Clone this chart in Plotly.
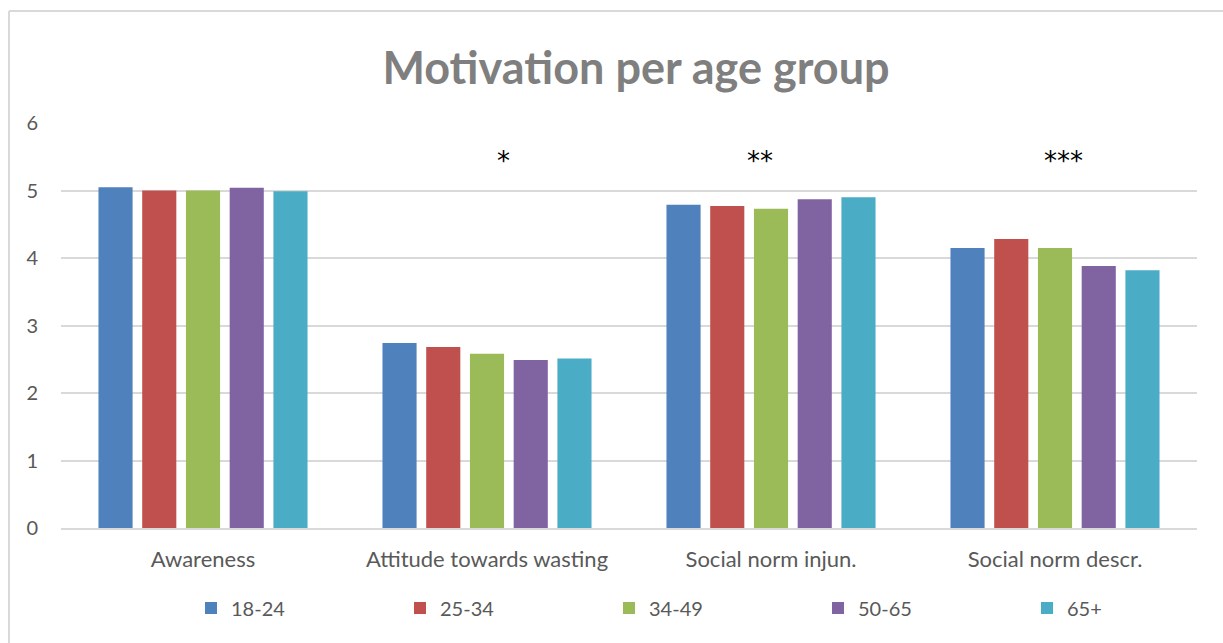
import plotly.graph_objects as go

categories = ["Awareness", "Attitude towards wasting", "Social norm injun.", "Social norm descr."]
age_groups = ["18-24", "25-34", "34-49", "50-65", "65+"]

vals_18_24 = [5.05, 2.74, 4.79, 4.15]
vals_25_34 = [5.00, 2.68, 4.77, 4.28]
vals_34_49 = [5.00, 2.58, 4.73, 4.15]
vals_50_65 = [5.04, 2.49, 4.87, 3.88]
vals_65_plus = [4.99, 2.51, 4.90, 3.82]

series = [vals_18_24, vals_25_34, vals_34_49, vals_50_65, vals_65_plus]
colors = ["#4f81bd", "#c0504d", "#9bbb59", "#8064a2", "#4bacc6"]

# significance markers above the categories
sig_labels = ["", "*", "**", "***"]
sig_shift = [0, 16, -11, 8]

FONT = "Lato"
GRID = "#d9d9d9"
TXT = "#595959"

fig = go.Figure()
for name, vals, col in zip(age_groups, series, colors):
    fig.add_trace(go.Bar(
        x=categories, y=vals, name=name,
        marker=dict(color=col, line=dict(width=0)),
    ))

W, H = 1223, 643
ML, MR, MT, MB = 61, 26, 123, 115
PW, PH = W - ML - MR, H - MT - MB


def px(xp):
    return (xp - ML) / PW


def py(yp):
    return (H - MB - yp) / PH


annotations = []
for cat, lab, sh in zip(categories, sig_labels, sig_shift):
    if lab:
        annotations.append(dict(
            x=cat, y=5.5, xref="x", yref="y", text=lab, showarrow=False,
            xshift=sh, yshift=-4,
            font=dict(family="DejaVu Sans", size=26, color="#000000"),
        ))

fig.update_layout(
    width=W, height=H,
    margin=dict(l=ML, r=MR, t=MT, b=MB, pad=0, autoexpand=False),
    paper_bgcolor="white", plot_bgcolor="white",
    barmode="group", bargap=0.23, bargroupgap=0.22,
    title=dict(
        text="<b>Motivation per age group</b>",
        x=px(636), xref="paper", xanchor="center",
        y=1 - 68 / H, yref="container", yanchor="middle",
        font=dict(family=FONT, size=45, color="#7f7f7f"),
    ),
    font=dict(family=FONT, color=TXT),
    xaxis=dict(
        showgrid=False, showline=True, linecolor=GRID, linewidth=2,
        ticks="", tickfont=dict(family=FONT, size=22, color=TXT),
        ticklabelstandoff=11,
    ),
    yaxis=dict(
        range=[0, 6], dtick=1, showgrid=True, gridcolor=GRID, gridwidth=2,
        zeroline=False, showline=False, ticks="",
        tickfont=dict(family=FONT, size=20, color=TXT),
        ticklabelstandoff=22,
    ),
    legend=dict(
        orientation="h", x=px(191), xanchor="left",
        y=py(608), yanchor="middle",
        entrywidth=164, entrywidthmode="pixels",
        font=dict(family=FONT, size=20, color=TXT),
        itemclick=False, itemdoubleclick=False,
    ),
    annotations=annotations,
    shapes=[
        dict(type="line", xref="paper", yref="paper",
             x0=px(9), x1=px(9), y0=py(11), y1=py(H + 5),
             line=dict(color=GRID, width=2)),
        dict(type="line", xref="paper", yref="paper",
             x0=px(9), x1=px(W + 5), y0=py(11), y1=py(11),
             line=dict(color=GRID, width=2)),
    ],
)

fig.write_html("out.html", config={"displayModeBar": False})
